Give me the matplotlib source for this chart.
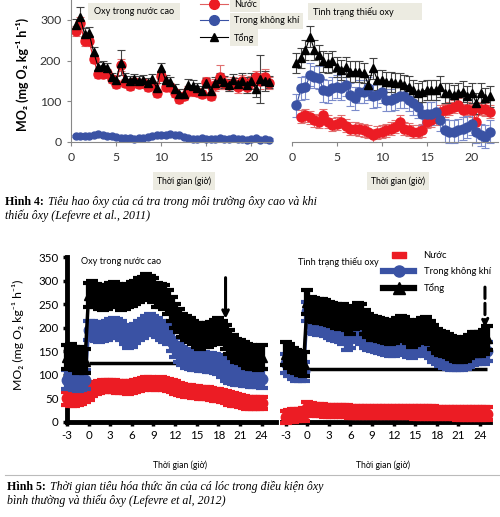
import numpy as np
import matplotlib.pyplot as plt
from matplotlib.lines import Line2D
from matplotlib.patches import Rectangle

plt.rcParams['font.family'] = ['Lato', 'DejaVu Sans']
plt.rcParams['axes.unicode_minus'] = False
SERIF = ['Liberation Serif', 'DejaVu Serif']
W, H = 500, 517

# ---- Hình 4: cá tra (Lefevre et al., 2011) ----
t_hi = np.arange(0.5, 22.5, 0.5)
tong_hi = [288, 308, 265, 268, 222, 185, 188, 182, 160, 153, 195, 158, 150, 155, 150,
           153, 145, 155, 133, 182, 152, 148, 130, 118, 118, 140, 138, 132, 125, 145,
           125, 145, 155, 148, 140, 152, 142, 150, 140, 150, 130, 155, 150, 148]
nuoc_hi = [272, 293, 248, 248, 205, 167, 167, 170, 155, 143, 190, 145, 138, 147, 142,
           145, 135, 140, 120, 163, 135, 135, 120, 105, 112, 125, 125, 122, 118, 148,
           113, 140, 160, 145, 140, 145, 135, 150, 135, 148, 160, 150, 160, 145]
khi_hi = [15, 15, 14, 15, 18, 20, 17, 15, 14, 12, 10, 10, 9, 8, 9, 10, 12, 14, 16, 18,
          18, 20, 18, 16, 12, 10, 8, 8, 9, 8, 7, 8, 10, 8, 7, 9, 8, 7, 6, 8, 10, 6, 7, 6]
err_tong_hi = [15, 25, 15, 15, 12, 12, 12, 12, 10, 10, 30, 12, 12, 12, 12, 12, 12, 12,
               12, 12, 12, 12, 12, 12, 12, 15, 15, 12, 12, 12, 12, 15, 15, 15, 15, 15,
               15, 20, 20, 20, 20, 60, 25, 15]
err_nuoc_hi = [12, 15, 12, 12, 10, 10, 10, 10, 10, 10, 15, 10, 10, 10, 10, 10, 10, 10,
               10, 12, 10, 10, 10, 10, 10, 12, 12, 10, 10, 12, 10, 15, 30, 15, 15, 15,
               15, 15, 15, 15, 15, 20, 20, 15]

t_lo = np.arange(0.5, 22.5, 0.5)
t_lo_nuoc = np.arange(1.0, 22.5, 0.5)
tong_lo = [194, 206, 226, 259, 226, 214, 198, 194, 198, 185, 177, 185, 173, 173, 173,
           169, 140, 181, 152, 152, 148, 148, 144, 144, 140, 136, 128, 120, 124, 128,
           128, 128, 136, 120, 120, 116, 120, 124, 112, 120, 95, 120, 107, 112]
khi_lo = [90, 132, 134, 165, 160, 158, 127, 125, 132, 136, 132, 140, 116, 107, 124, 124,
          132, 112, 115, 124, 103, 103, 107, 112, 112, 103, 95, 87, 70, 70, 70, 74, 54,
          29, 25, 25, 29, 33, 37, 45, 25, 17, 13, 25]
nuoc_lo = [62, 66, 61, 54, 50, 66, 50, 42, 45, 50, 40, 33, 33, 31, 29, 25, 17, 23, 25, 29,
           33, 37, 50, 33, 30, 25, 25, 29, 50, 54, 58, 74, 78, 82, 87, 91, 78, 82, 78, 50,
           82, 80, 74]
err_tong_lo = 25
err_khi_lo = 28
err_nuoc_lo = 16

# ---- Hình 5: cá lóc (Lefevre et al., 2012) ----
t5_hi = np.arange(-3, 24.5, 0.5)
tong5_hi = [138, 140, 135, 130, 135, 130,
            270, 275, 268, 265, 262, 265, 270, 272, 268, 262,
            265, 268, 272, 275, 280, 283, 290, 285, 280, 270,
            268, 265, 255, 240, 225, 215, 205, 200, 195, 190,
            185, 180, 185, 185, 188, 192, 195, 190, 180, 170,
            160, 152, 150, 145, 140, 138, 137, 135, 138]
khi5_hi = [90, 92, 88, 85, 88, 90,
           195, 195, 192, 190, 192, 195, 198, 200, 198, 195,
           185, 178, 180, 188, 195, 198, 205, 210, 205, 200,
           195, 190, 185, 170, 158, 148, 140, 135, 132, 130,
           130, 128, 128, 127, 127, 125, 122, 115, 108, 102,
           100, 98, 98, 97, 96, 95, 95, 94, 92]
nuoc5_hi = [50, 48, 47, 50, 52, 55,
            60, 68, 72, 74, 76, 76, 77, 76, 75, 75,
            74, 73, 74, 76, 78, 80, 82, 82, 80, 80,
            82, 81, 79, 76, 73, 70, 68, 66, 65, 64,
            63, 62, 62, 61, 60, 58, 57, 55, 53, 50,
            48, 46, 44, 42, 40, 40, 40, 40, 40]

t5_lo = np.arange(-3, 25.5, 0.5)
tong5_lo = [145, 140, 132, 128, 125, 123,
            255, 240, 238, 236, 235, 233, 230, 228, 225, 222,
            225, 220, 212, 222, 228, 225, 212, 205, 200, 198,
            196, 194, 192, 190, 192, 196, 200, 198, 192, 185,
            188, 192, 195, 198, 190, 180, 172, 168, 165, 162,
            158, 155, 152, 152, 155, 160, 165, 165, 166, 170, 178]
khi5_lo = [125, 118, 112, 108, 108, 108,
           235, 208, 206, 205, 204, 202, 198, 195, 192, 190,
           185, 172, 178, 190, 192, 185, 178, 172, 170, 168,
           166, 164, 162, 160, 160, 165, 168, 162, 158, 155,
           160, 165, 165, 160, 155, 148, 142, 138, 135, 132,
           130, 130, 130, 130, 132, 136, 140, 142, 142, 144, 150]
nuoc5_lo = [10, 12, 14, 15, 15, 16,
            30, 27, 26, 25, 25, 24, 24, 24, 23, 23,
            23, 23, 22, 22, 22, 22, 22, 22, 21, 21,
            21, 21, 21, 21, 21, 22, 22, 21, 21, 21,
            20, 20, 20, 20, 20, 20, 19, 19, 19, 19,
            19, 19, 18, 18, 18, 18, 18, 18, 18, 18, 18]
err5 = {'tong': 25, 'khi': 20, 'nuoc': 13}
baseline_hi = 125
baseline_lo = 112
arrow_hi = (19, 312, 213)
arrow_lo = (24.7, 292, 195)

RED = '#EC1C24'
BLUE = '#3A52A4'
BEIGE = '#ECEBE1'
YLABEL = 'MO\u2082 (mg O\u2082 kg\u207b\u00b9 h\u207b\u00b9)'


def fx(px):
    return px / W


def fy(py):
    return 1 - py / H


fig = plt.figure(figsize=(W / 100, H / 100), dpi=100)

# ---------- top panels ----------
ax1 = fig.add_axes([fx(71), fy(142), 201 / W, 142 / H])
ax2 = fig.add_axes([fx(292), fy(142), 206 / W, 142 / H])

kw = dict(lw=0.8, elinewidth=0.8, capsize=3, capthick=0.8, clip_on=False)
ax1.errorbar(t_hi, khi_hi, yerr=3, fmt='o-', color=BLUE, ms=5, ecolor='#7C8CCB', **kw)
ax1.errorbar(t_hi, nuoc_hi, yerr=err_nuoc_hi, fmt='o-', color=RED, ms=6.5,
             ecolor='#E07070', **kw)
ax1.errorbar(t_hi, tong_hi, yerr=err_tong_hi, fmt='^-', color='black', ms=5.5,
             ecolor='#444444', **kw)
ax2.errorbar(t_lo_nuoc, nuoc_lo, yerr=err_nuoc_lo, fmt='o-', color=RED, ms=6.5,
             ecolor='#E07070', **kw)
ax2.errorbar(t_lo, khi_lo, yerr=err_khi_lo, fmt='o-', color=BLUE, ms=6.5,
             ecolor='#7C8CCB', **kw)
ax2.errorbar(t_lo, tong_lo, yerr=err_tong_lo, fmt='^-', color='black', ms=5.5,
             ecolor='#444444', **kw)

for ax, xmax in ((ax1, 22.3), (ax2, 22.9)):
    ax.set_xlim(0, xmax)
    ax.set_ylim(0, 349)
    ax.set_xticks([0, 5, 10, 15, 20])
    for s in ('top', 'right'):
        ax.spines[s].set_visible(False)
    ax.spines['bottom'].set_color('#888888')
    ax.spines['left'].set_color('#888888')
    ax.tick_params(colors='#888888', labelcolor='#333333', labelsize=8.8,
                   length=3, pad=4)
ax1.set_yticks([0, 100, 200, 300])
ax2.spines['left'].set_visible(False)
ax2.set_yticks([])

fig.text(fx(22), fy(74), YLABEL, rotation=90, ha='center', va='center',
         fontsize=9, fontweight='bold')

fig.patches.append(Rectangle((fx(88), fy(20)), 92 / W, 17 / H, transform=fig.transFigure,
                             fc=BEIGE, ec='none', zorder=0))
fig.text(fx(134), fy(12), 'Oxy trong nước cao', ha='center', va='center', fontsize=6.6)
fig.patches.append(Rectangle((fx(308), fy(20)), 114 / W, 17 / H, transform=fig.transFigure,
                             fc=BEIGE, ec='none', zorder=0))
fig.text(fx(313), fy(12), 'Tình trạng thiếu oxy', ha='left', va='center', fontsize=6.6)

h_top = [Line2D([], [], color='#E06060', lw=0.8, marker='o', mfc=RED, mec=RED, ms=7),
         Line2D([], [], color=BLUE, lw=0.8, marker='o', ms=7),
         Line2D([], [], color='black', lw=0.8, marker='^', ms=6)]
leg1 = fig.legend(h_top, ['Nước', 'Trong không khí', 'Tổng'], loc='upper left',
                  bbox_to_anchor=(fx(200), fy(0)), frameon=False, fontsize=6.6,
                  handlelength=3.0, handletextpad=0.7, labelspacing=0.8,
                  borderpad=0, borderaxespad=0)
for txt in leg1.get_texts():
    txt.set_bbox(dict(fc=BEIGE, ec='none', pad=2.5))

for cx in (184, 398):
    fig.text(fx(cx), fy(181), 'Thời gian (giờ)', ha='center', va='center', fontsize=6.2,
             bbox=dict(fc=BEIGE, ec='none', boxstyle='square,pad=0.5'))

# ---------- bottom panels ----------
ax3 = fig.add_axes([fx(67), fy(422), 209 / W, 165 / H])
ax4 = fig.add_axes([fx(282), fy(422), 208 / W, 165 / H])

bk = dict(lw=2.5, elinewidth=4.5, capsize=4, capthick=3, ms=7.5, clip_on=False)
for ax, t, nuoc, khi, tong in ((ax3, t5_hi, nuoc5_hi, khi5_hi, tong5_hi),
                               (ax4, t5_lo, nuoc5_lo, khi5_lo, tong5_lo)):
    ax.errorbar(t, nuoc, yerr=err5['nuoc'], fmt='o-', color=RED, zorder=3, **bk)
    ax.errorbar(t, khi, yerr=err5['khi'], fmt='o-', color=BLUE, zorder=4, **bk)
    ax.errorbar(t, tong, yerr=err5['tong'], fmt='^-', color='black', zorder=5, **bk)

ax3.hlines(baseline_hi, 0, t5_hi[-1], color='black', lw=2.5, zorder=2)
ax4.hlines(baseline_lo, 0, t5_lo[-1], color='black', lw=2.5, zorder=2)
ax3.annotate('', xy=(arrow_hi[0], arrow_hi[2]), xytext=(arrow_hi[0], arrow_hi[1]),
             arrowprops=dict(arrowstyle='->', lw=2.2, color='black'), zorder=6)
ax4.annotate('', xy=(arrow_lo[0], arrow_lo[2]), xytext=(arrow_lo[0], arrow_lo[1]),
             arrowprops=dict(arrowstyle='->', lw=2.2, ls='--', color='black'), zorder=6)

ax3.set_xlim(-3, 26)
ax4.set_xlim(-3.5, 25.4)
for ax in (ax3, ax4):
    ax.set_ylim(0, 350)
    ax.set_xticks(np.arange(-3, 25, 3))
    for s in ('top', 'right'):
        ax.spines[s].set_visible(False)
    ax.spines['bottom'].set_linewidth(3.5)
    ax.spines['left'].set_linewidth(3.5)
    ax.tick_params(labelsize=8.3, length=3, width=2.5, pad=3)
ax3.set_yticks(np.arange(0, 351, 50))
ax4.spines['left'].set_visible(False)
ax4.set_yticks([])

fig.text(fx(18), fy(335), YLABEL, rotation=90, ha='center', va='center', fontsize=8.8)
fig.text(fx(81), fy(262), 'Oxy trong nước cao', ha='left', va='center', fontsize=6.6)
fig.text(fx(298), fy(262), 'Tình trạng thiếu oxy', ha='left', va='center', fontsize=6.6)

h_bot = [Line2D([], [], color=RED, lw=0,
                marker=[(-1, -0.5), (1, -0.5), (1, 0.5), (-1, 0.5), (-1, -0.5)], ms=10),
         Line2D([], [], color=BLUE, lw=4.5, marker='o', ms=8),
         Line2D([], [], color='black', lw=4.5, marker='^', ms=8)]
leg2 = fig.legend(h_bot, ['Nước', 'Trong không khí', 'Tổng'], loc='upper left',
                  bbox_to_anchor=(fx(383), fy(251)), frameon=False, fontsize=6.8,
                  handlelength=3.3, handletextpad=1.0, labelspacing=0.75,
                  borderpad=0, borderaxespad=0)

for cx in (180, 383):
    fig.text(fx(cx), fy(465), 'Thời gian (giờ)', ha='center', va='center', fontsize=6.2)

fig.add_artist(Line2D([fx(5), fx(500)], [fy(475), fy(475)], transform=fig.transFigure,
                      color='#BBBBBB', lw=0.8))


# ---------- captions ----------
def caption(x_px, y_px, bold, italic, second):
    b = fig.text(fx(x_px), fy(y_px), bold, family=SERIF, fontweight='bold',
                 fontsize=8.6, va='bottom')
    ax1.annotate(italic, xy=(1, 0), xycoords=b, xytext=(3, 0), textcoords='offset points',
                 family=SERIF, fontstyle='italic', fontsize=8.6, va='bottom',
                 annotation_clip=False)
    fig.text(fx(x_px), fy(y_px + 14), second, family=SERIF, fontstyle='italic',
             fontsize=8.6, va='bottom')


caption(5, 208, 'Hình 4:', 'Tiêu hao ôxy của cá tra trong môi trường ôxy cao và khi',
        'thiếu ôxy (Lefevre et al., 2011)')
caption(7, 493, 'Hình 5:', 'Thời gian tiêu hóa thức ăn của cá lóc trong điều kiện ôxy',
        'bình thường và thiếu ôxy (Lefevre et al, 2012)')

fig.savefig('out.png', dpi=100)
